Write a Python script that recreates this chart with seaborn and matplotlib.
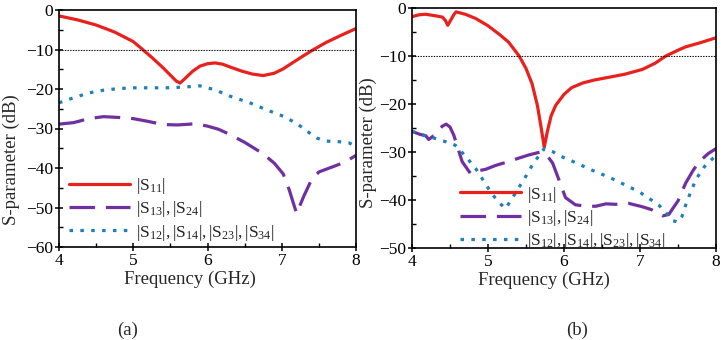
import numpy as np
import pandas as pd
import matplotlib
matplotlib.use("Agg")
import matplotlib.pyplot as plt
from matplotlib.ticker import MultipleLocator
import seaborn as sns

# ---- data ----
# panel (a)
a_s11_f = [4.0, 4.25, 4.5, 4.75, 5.0, 5.12, 5.25, 5.4, 5.5, 5.58, 5.63, 5.7, 5.8, 5.9, 6.0,
           6.1, 6.2, 6.3, 6.45, 6.6, 6.75, 6.9, 7.02, 7.15, 7.3, 7.43, 7.6, 7.8, 8.0]
a_s11 = [-1.5, -2.5, -3.8, -5.6, -8.0, -9.9, -12.0, -14.6, -16.5, -18.0, -18.5, -17.3, -15.5,
         -14.2, -13.6, -13.4, -13.7, -14.4, -15.4, -16.2, -16.6, -16.0, -14.9, -13.3, -11.5,
         -10.0, -8.2, -6.4, -4.7]

a_s13_f = [4.0, 4.2, 4.4, 4.6, 4.8, 5.0, 5.2, 5.4, 5.6, 5.84, 6.0, 6.15, 6.3, 6.5, 6.75, 6.9,
           7.02, 7.1, 7.2, 7.3, 7.4, 7.5, 7.7, 7.85, 8.0]
a_s13 = [-28.9, -28.5, -27.5, -27.0, -27.2, -27.5, -28.2, -29.0, -29.1, -28.8, -29.4, -30.2,
         -31.5, -33.5, -36.4, -38.8, -41.5, -45.5, -51.5, -47.0, -43.0, -41.0, -39.6, -38.5, -36.8]

a_s12_f = [4.0, 4.2, 4.4, 4.6, 4.8, 5.0, 5.2, 5.45, 5.7, 5.9, 6.1, 6.3, 6.57, 6.8, 7.02, 7.2,
           7.35, 7.47, 7.6, 7.75, 7.9, 8.0]
a_s12 = [-23.5, -22.2, -21.0, -20.3, -19.9, -19.7, -19.7, -19.7, -19.5, -19.2, -20.2, -21.8,
         -23.5, -25.3, -26.9, -28.7, -30.8, -32.4, -33.2, -33.3, -33.6, -34.5]

# panel (b)
b_s11_f = [4.0, 4.1, 4.18, 4.3, 4.4, 4.44, 4.47, 4.51, 4.55, 4.58, 4.7, 4.84, 5.0, 5.15, 5.27,
           5.41, 5.5, 5.58, 5.65, 5.7, 5.74, 5.78, 5.83, 5.89, 6.0, 6.1, 6.25, 6.4, 6.6, 6.8,
           7.03, 7.2, 7.34, 7.5, 7.6, 7.8, 8.0]
b_s11 = [-1.8, -1.4, -1.3, -1.6, -1.9, -2.6, -3.6, -2.5, -1.4, -0.8, -1.3, -2.2, -3.7, -5.5,
         -7.1, -10.0, -12.6, -15.8, -20.3, -25.0, -29.0, -25.8, -22.5, -20.3, -18.0, -16.6,
         -15.6, -15.0, -14.4, -13.8, -12.8, -11.5, -10.0, -8.8, -8.1, -7.2, -6.2]

b_s13_f = [4.0, 4.1, 4.18, 4.22, 4.31, 4.4, 4.45, 4.5, 4.55, 4.66, 4.77, 4.85, 4.97, 5.1, 5.27,
           5.4, 5.54, 5.69, 5.78, 5.85, 5.95, 6.02, 6.15, 6.3, 6.42, 6.55, 6.68, 6.85, 7.03,
           7.15, 7.3, 7.38, 7.43, 7.5, 7.6, 7.7, 7.78, 7.9, 8.0]
b_s13 = [-25.7, -26.3, -26.6, -27.4, -26.3, -24.6, -24.2, -24.8, -26.5, -32.0, -34.5, -34.0,
         -33.6, -32.8, -32.0, -31.3, -30.6, -30.0, -30.8, -32.3, -36.5, -39.5, -41.0, -41.3,
         -41.3, -40.8, -40.9, -40.7, -41.4, -42.0, -43.3, -43.0, -41.8, -40.2, -36.5, -33.8,
         -32.0, -30.3, -29.3]

b_s12_f = [4.0, 4.15, 4.31, 4.45, 4.57, 4.7, 4.84, 4.95, 5.05, 5.15, 5.23, 5.32, 5.41, 5.5,
           5.58, 5.66, 5.74, 5.85, 5.93, 6.15, 6.37, 6.6, 6.81, 7.0, 7.15, 7.25, 7.35, 7.43,
           7.5, 7.55, 7.6, 7.67, 7.74, 7.85, 8.0]
b_s12 = [-25.7, -26.5, -27.2, -27.9, -28.6, -30.8, -33.5, -36.2, -38.7, -40.6, -41.8, -39.6,
         -37.3, -35.0, -32.8, -31.0, -29.3, -29.9, -30.7, -32.2, -33.8, -35.3, -36.9, -38.4,
         -40.0, -41.1, -42.8, -44.3, -44.6, -43.5, -41.1, -38.2, -35.6, -33.0, -30.7]

threshold = -10
labels = [r'$|\mathrm{S}_{11}|$',
          r'$|\mathrm{S}_{13}|,|\mathrm{S}_{24}|$',
          r'$|\mathrm{S}_{12}|,|\mathrm{S}_{14}|,|\mathrm{S}_{23}|,|\mathrm{S}_{34}|$']

# ---- style ----
sns.set_theme(style="ticks")
plt.rcParams['font.family'] = ['Liberation Serif', 'DejaVu Serif']
plt.rcParams['mathtext.fontset'] = 'custom'
plt.rcParams['mathtext.rm'] = 'Liberation Serif'
plt.rcParams['mathtext.it'] = 'Liberation Serif:italic'
plt.rcParams['axes.linewidth'] = 1.2

RED = '#e8211d'
PURPLE = '#7030a0'
BLUE = '#1f80b8'


def draw_panel(ax, series, ylim, label_xy, xlab_xy, leg_xy):
    styles = [(RED, None), (PURPLE, (8, 3.4)), (BLUE, (1.1, 2.3))]
    for (f, v), lab, (col, dash) in zip(series, labels, styles):
        df = pd.DataFrame({'freq': f, 'dB': v})
        sns.lineplot(data=df, x='freq', y='dB', ax=ax, color=col, lw=2.3, label=lab)
        line = ax.lines[-1]
        if dash is not None:
            line.set_dashes(dash)
    ax.axhline(threshold, color='black', lw=0.8, ls=(0, (1.2, 1.2)))

    ax.set_xlim(4, 8)
    ax.set_ylim(*ylim)
    ax.xaxis.set_major_locator(MultipleLocator(1))
    ax.xaxis.set_minor_locator(MultipleLocator(0.5))
    ax.yaxis.set_major_locator(MultipleLocator(10))
    ax.yaxis.set_minor_locator(MultipleLocator(5))
    ax.tick_params(which='major', direction='inout', length=6, width=1.1,
                   labelsize=12.5, pad=1, color='black', labelcolor='black')
    ax.tick_params(which='minor', direction='in', length=3, width=1.0, color='black')
    for s in ax.spines.values():
        s.set_visible(True)
        s.set_color('black')

    ax.set_xlabel('Frequency (GHz)', fontsize=13.5)
    ax.set_ylabel('S-parameter (dB)', fontsize=13.5)
    ax.xaxis.set_label_coords(*xlab_xy)
    ax.xaxis.label.set_va('center')
    ax.yaxis.set_label_coords(*label_xy)
    ax.yaxis.label.set_va('center')

    leg = ax.legend(loc='center left', bbox_to_anchor=leg_xy, frameon=False, fontsize=12.5,
                    handlelength=3.5, handletextpad=0.35, labelspacing=0.2,
                    borderpad=0, borderaxespad=0)
    for h in leg.get_lines():
        h.set_linewidth(2.3)


fig = plt.figure(figsize=(7.24, 3.4), dpi=100)
ax_a = fig.add_axes([59 / 724, 1 - 247 / 340, 297 / 724, 237 / 340])
ax_b = fig.add_axes([412 / 724, 1 - 248 / 340, 304 / 724, 240 / 340])

draw_panel(ax_a, [(a_s11_f, a_s11), (a_s13_f, a_s13), (a_s12_f, a_s12)], (-60, 0),
           (-0.16, 0.37), (0.44, -0.135), (0.035, 0.16))
draw_panel(ax_b, [(b_s11_f, b_s11), (b_s13_f, b_s13), (b_s12_f, b_s12)], (-50, 0),
           (-0.142, 0.44), (0.434, -0.133), (0.158, 0.125))

fig.text(128 / 724, 1 - 330 / 340, '(a)', ha='center', va='center', fontsize=13.5)
fig.text(577 / 724, 1 - 330 / 340, '(b)', ha='center', va='center', fontsize=13.5)

fig.savefig('out.png', dpi=100)
